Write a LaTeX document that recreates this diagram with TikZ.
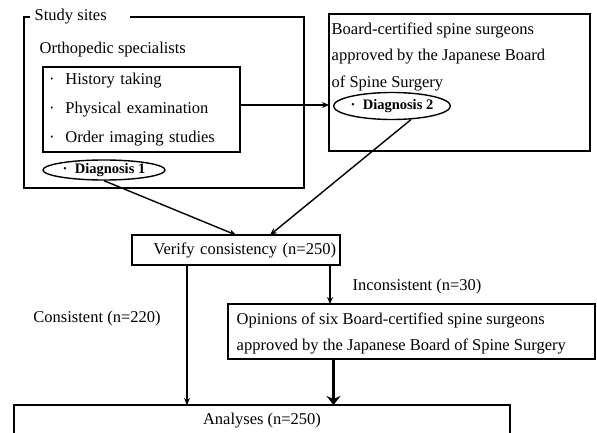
\documentclass[tikz,border=0pt]{standalone}
\usepackage{fontspec}
\setmainfont{Liberation Serif}
\usetikzlibrary{arrows.meta,positioning,shapes.geometric}

\begin{document}
\begin{tikzpicture}[
    x=1pt, y=-1pt,
    line width=1.4pt,
    box/.style={draw, inner sep=0pt, outer sep=0pt},
    note/.style={font=\fontsize{16.5}{26.5}\selectfont, inner sep=0pt},
    diag/.style={draw, ellipse, inner sep=0pt, font=\bfseries\fontsize{14.5}{16}\selectfont},
    arr/.style={-{Stealth[length=7pt,width=6pt]}},
    thickarr/.style={line width=3.4pt, -{Stealth[length=9pt,width=14pt]}},
  ]
    \useasboundingbox (0,0) rectangle (597,433);

    % study sites frame
    \node[note, anchor=west] (sites) at (34,17) {Study sites};
    \draw (130,17) -- (304,17) -- (304,188) -- (24,188) -- (24,17) -- (30,17);
    \node[note, anchor=west] (ortho) at (39,50) {Orthopedic specialists};
    \node[box, note, anchor=north west, minimum width=197, minimum height=85,
          text width=185, align=left] (tasks) at (43,67)
          {\textperiodcentered\ \ History taking\\[2.5pt]
           \textperiodcentered\ \ Physical examination\\[2.5pt]
           \textperiodcentered\ \ Order imaging studies};
    \node[diag, minimum width=122, minimum height=20] (diag1) at (104,170)
          {\textperiodcentered\ \ Diagnosis 1};

    % spine surgeons
    \node[box, anchor=north west, minimum width=261, minimum height=137] (surg) at (329,14) {};
    \node[note, anchor=north west, align=left] (surgtxt) at (331,22)
          {Board-certified spine surgeons\\approved by the Japanese Board\\of Spine Surgery};
    \node[diag, minimum width=113, minimum height=27] (diag2) at (392,106)
          {\textperiodcentered\ \ Diagnosis 2};

    \draw[arr] (tasks.east |- 0,105) -- (surg.west |- 0,105);

    % consistency
    \node[box, note, minimum width=208, minimum height=30, text width=200,
          align=right] (verify) at (236,250) {Verify consistency (n=250)};
    \draw[arr] (diag1.south) -- (verify.north);
    \draw[arr] (diag2.-35) -- ([xshift=34pt]verify.north);

    \node[box, minimum width=367, minimum height=55] (opinions) at (411.5,331.5) {};
    \node[note, anchor=north west, align=left] (opintxt) at (236,312)
          {Opinions of six Board-certified spine surgeons\\approved by the Japanese Board of Spine Surgery};
    \node[box, note, minimum width=496, minimum height=32] (analyses) at (262,421)
          {Analyses (n=250)};

    \draw[arr] ([xshift=-49pt]verify.south) -- ([xshift=-49pt]verify.south |- analyses.north);
    \draw[arr] ([xshift=94pt]verify.south) -- ([xshift=94pt]verify.south |- opinions.north);
    \draw[thickarr] ([xshift=-78pt]opinions.south) -- ([xshift=-78pt]opinions.south |- analyses.north);

    \node[note] (cons) at (97,319) {Consistent (n=220)};
    \node[note] (incons) at (417,287) {Inconsistent (n=30)};
  \end{tikzpicture}
\end{document}
